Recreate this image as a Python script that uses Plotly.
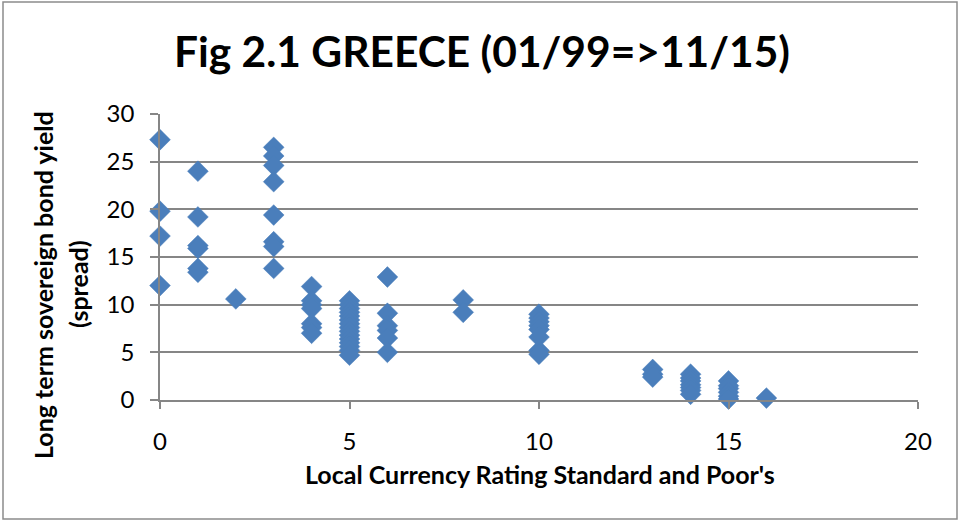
import plotly.graph_objects as go

# Local currency rating (S&P numeric) and long-term sovereign bond yield spread
rating = (
    [0] * 4 + [1] * 6 + [2] * 1 + [3] * 8 + [4] * 7 + [5] * 15 + [6] * 6 +
    [8] * 2 + [10] * 8 + [13] * 3 + [14] * 7 + [15] * 6 + [16] * 1
)
spread = [
    27.3, 19.8, 17.2, 12.0,
    24.0, 19.2, 16.2, 15.9, 13.8, 13.4,
    10.6,
    26.5, 25.6, 24.6, 22.9, 19.4, 16.6, 16.1, 13.8,
    11.9, 10.4, 10.0, 9.6, 8.0, 7.6, 7.0,
    10.4, 10.0, 9.6, 9.2, 8.8, 8.4, 8.0, 7.6, 7.2, 6.8, 6.4, 6.0, 5.6, 5.2, 4.7,
    12.9, 9.1, 7.8, 7.3, 6.5, 5.0,
    10.5, 9.2,
    9.0, 8.6, 8.2, 7.8, 7.4, 6.6, 5.2, 4.8,
    3.2, 2.7, 2.4,
    2.7, 2.3, 2.0, 1.6, 1.3, 1.0, 0.6,
    2.0, 1.5, 1.2, 0.8, 0.4, 0.1,
    0.2,
]
x_ticks = [0, 5, 10, 15, 20]
y_ticks = [0, 5, 10, 15, 20, 25, 30]

title_text = "Fig 2.1 GREECE (01/99=>11/15)"
x_title = "Local Currency Rating Standard and Poor's"
y_title_1 = "Long term sovereign bond yield"
y_title_2 = "(spread)"

W, H = 961, 522
L, R, T, B = 160, 961 - 918, 114, 522 - 400
pw, ph = W - L - R, H - T - B

def px(xp):
    return (xp - L) / pw

def py(yp):
    return (H - B - yp) / ph

FONT = "Lato"
grid = "#868686"

fig = go.Figure()
fig.add_trace(go.Scatter(
    x=rating, y=spread, mode="markers", cliponaxis=False,
    marker=dict(symbol="diamond", size=16, color="#4A7EBB",
                line=dict(color="#4A7EBB", width=0.5)),
    showlegend=False, hoverinfo="x+y",
))

fig.update_layout(
    width=W, height=H,
    margin=dict(l=L, r=R, t=T, b=B),
    paper_bgcolor="white", plot_bgcolor="white",
    font=dict(family=FONT, color="black"),
    xaxis=dict(range=[0, 20], tickvals=x_ticks, showgrid=False, zeroline=False,
               showline=True, linecolor=grid, linewidth=1.5,
               ticks="outside", ticklen=7, tickcolor=grid, tickwidth=1.5,
               tickfont=dict(size=24, family=FONT), ticklabelstandoff=12),
    yaxis=dict(range=[0, 30], tickvals=y_ticks, showgrid=True, gridcolor=grid,
               gridwidth=1.5, zeroline=False,
               showline=True, linecolor=grid, linewidth=1.5,
               ticks="outside", ticklen=8, tickcolor=grid, tickwidth=1.5,
               tickfont=dict(size=24, family=FONT), ticklabelstandoff=11),
    shapes=[dict(type="rect", xref="paper", yref="paper",
                 x0=px(3), x1=px(957), y0=py(519), y1=py(2),
                 line=dict(color="#8C8C8C", width=1.5), layer="below")],
    annotations=[
        dict(text=title_text, xref="paper", yref="paper", x=px(482), y=py(50),
             showarrow=False, xanchor="center", yanchor="middle",
             font=dict(size=42.5, family=FONT, weight="bold")),
        dict(text=x_title, xref="paper", yref="paper", x=px(540), y=py(474),
             showarrow=False, xanchor="center", yanchor="middle",
             font=dict(size=25, family=FONT, weight="bold")),
        dict(text=y_title_1, xref="paper", yref="paper", x=px(43), y=py(285),
             showarrow=False, xanchor="center", yanchor="middle", textangle=-90,
             font=dict(size=25, family=FONT, weight="bold")),
        dict(text=y_title_2, xref="paper", yref="paper", x=px(78), y=py(284),
             showarrow=False, xanchor="center", yanchor="middle", textangle=-90,
             font=dict(size=25, family=FONT, weight="bold")),
    ],
)

fig.write_html(
    "out.html",
    config={"displayModeBar": False},
    post_script="document.body.style.margin='0';document.body.style.overflow='hidden';",
)
